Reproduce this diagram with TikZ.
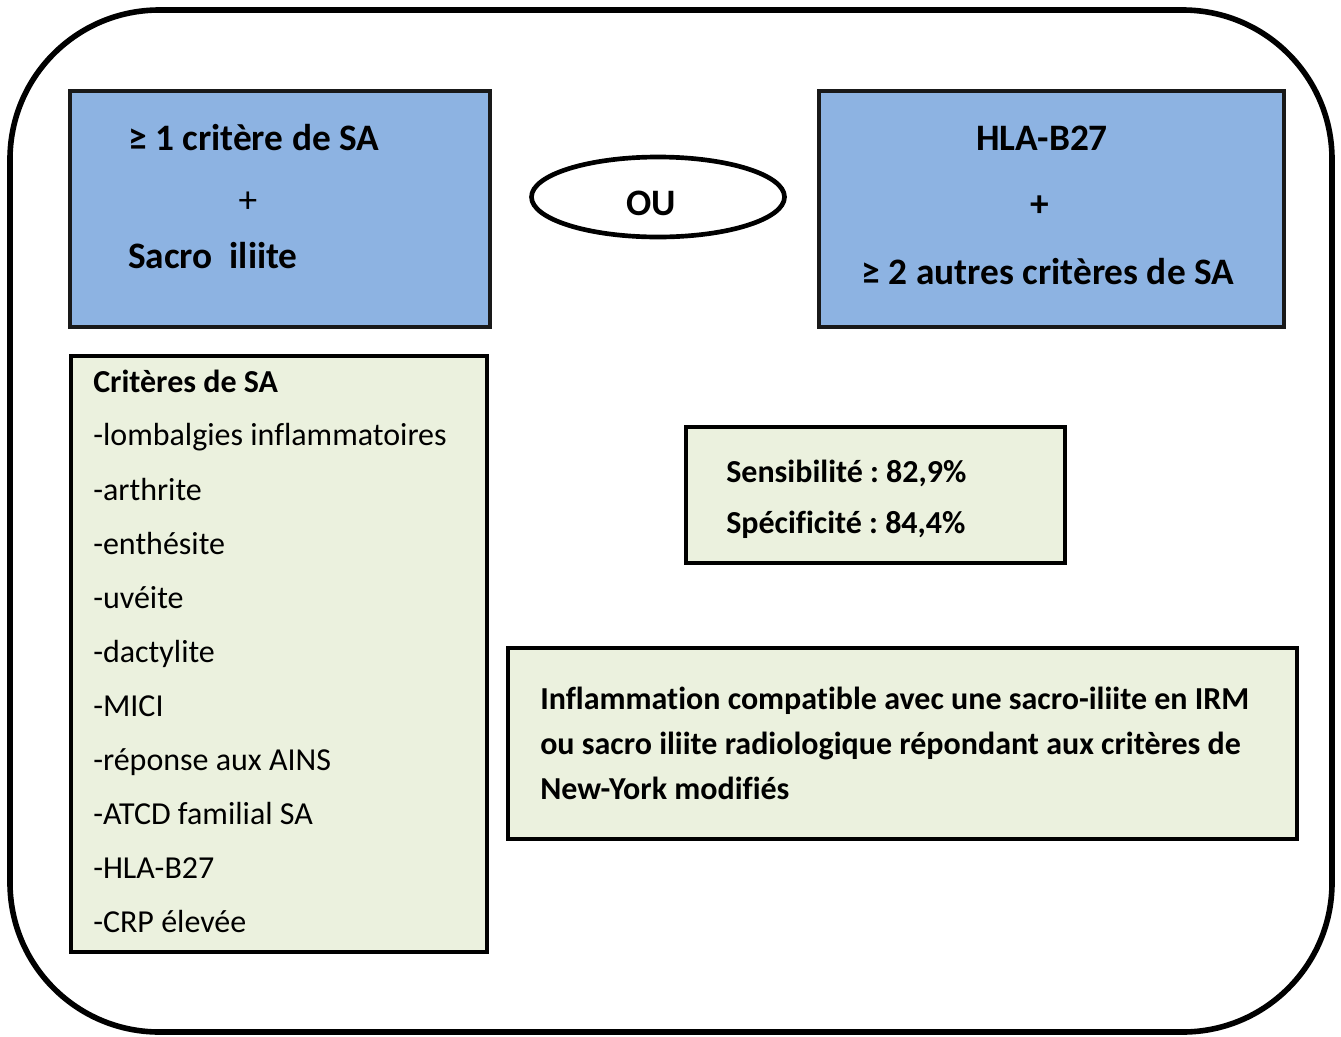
\documentclass[tikz,border=0pt]{standalone}
\usepackage{fontspec}
\setmainfont{Carlito}[Ligatures={TeX,NoCommon,NoRare,NoContextual}]
\usetikzlibrary{shapes.geometric}
\definecolor{bluefill}{HTML}{8DB3E2}
\definecolor{greenfill}{HTML}{EBF1DE}
\frenchspacing
\tikzset{
  bluebox/.style={draw=black!90, line width=3.5pt, fill=bluefill},
  greenbox/.style={draw=black, line width=3.6pt, fill=greenfill},
  bigtxt/.style={font=\fontsize{28}{33}\selectfont\bfseries, inner sep=0pt, text height=24.5pt, text depth=6pt},
  listtxt/.style={font=\fontsize{24}{29}\selectfont, inner sep=0pt, anchor=west, text height=21.5pt, text depth=5pt},
  midtxt/.style={font=\fontsize{24}{29}\selectfont\bfseries, inner sep=0pt, anchor=west, text height=21.5pt, text depth=5pt},
}
\begin{document}
\begin{tikzpicture}[x=0.75pt,y=-0.75pt]
\useasboundingbox (0,0) rectangle (1341,1036);
\draw[line width=4.2pt, rounded corners=112pt] (10,10) rectangle (1332,1032);
% top blue boxes
\draw[bluebox] (70,91) rectangle (490,327);
\node[bigtxt, anchor=west] (c1) at (128,138) {≥ 1 critère de SA};
\node[bigtxt, font=\fontsize{28}{33}\selectfont] (p1) at (248,200) {+};
\node[bigtxt, anchor=west] (s1) at (128,256) {Sacro\ \ iliite};
\draw[bluebox] (819,91) rectangle (1284,327);
\node[bigtxt] (h1) at (1042,138) {HLA-B27};
\node[bigtxt] (p2) at (1040,204) {+};
\node[bigtxt] (a2) at (1048,272) {≥ 2 autres critères de SA};
% ellipse
\node[draw, line width=3.5pt, ellipse, minimum width=253*0.75pt, minimum height=80*0.75pt, inner sep=0pt] (ou) at (658,197) {};
\node[bigtxt] (out) at (651,203) {OU};
% list box
\draw[greenbox] (71,356) rectangle (487,952);
\node[listtxt, font=\fontsize{24}{29}\selectfont\bfseries] (l0) at (93,381) {Critères de SA};
\node[listtxt] (l1) at (93,434) {-lombalgies inflammatoires};
\node[listtxt] (l2) at (93,489) {-arthrite};
\node[listtxt] (l3) at (93,543) {-enthésite};
\node[listtxt] (l4) at (93,597) {-uvéite};
\node[listtxt] (l5) at (93,651) {-dactylite};
\node[listtxt] (l6) at (93,705) {-MICI};
\node[listtxt] (l7) at (93,759) {-réponse aux AINS};
\node[listtxt] (l8) at (93,813) {-ATCD familial SA};
\node[listtxt] (l9) at (93,867) {-HLA-B27};
\node[listtxt] (l10) at (93,921) {-CRP élevée};
% sensibility box
\draw[greenbox] (686,427) rectangle (1065,563);
\node[midtxt] (se) at (726,471) {Sensibilité : 82,9\%};
\node[midtxt] (sp) at (726,522) {Spécificité : 84,4\%};
% inflammation box
\draw[greenbox] (508,648) rectangle (1297,839);
\node[midtxt] (i1) at (540,698) {Inflammation compatible avec une sacro-iliite en IRM};
\node[midtxt] (i2) at (540,743) {ou sacro iliite radiologique répondant aux critères de};
\node[midtxt] (i3) at (540,788) {New-York modifiés};
\end{tikzpicture}
\end{document}
